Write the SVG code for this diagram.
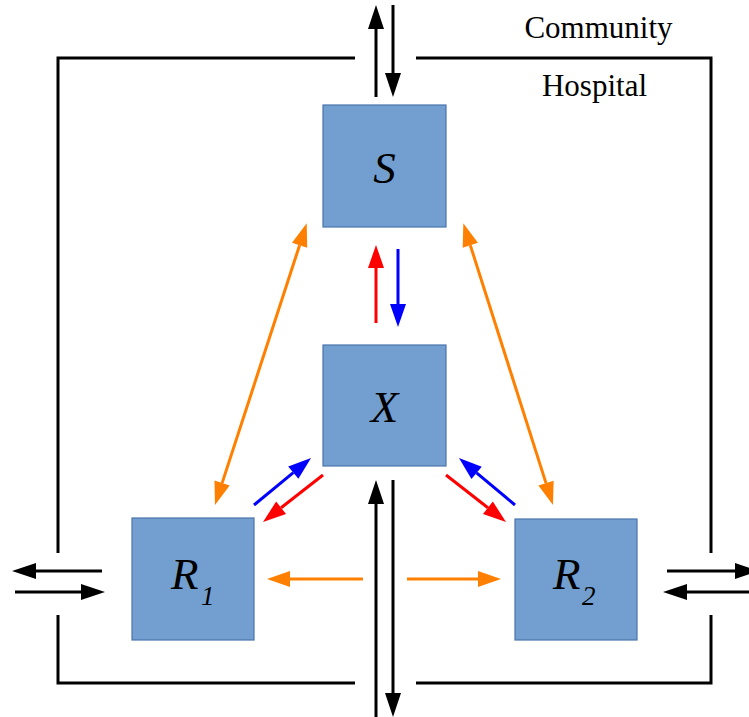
<svg xmlns="http://www.w3.org/2000/svg" width="749" height="717" viewBox="0 0 749 717">
  <style>
    .box { fill: #729fcf; stroke: #4a75ad; stroke-width: 1.2; }
    .lbl { font-family: "Liberation Serif", "Times New Roman", serif; font-style: italic; fill: #000; }
    .big { font-size: 45px; }
    .sub { font-size: 27px; }
    .zone { font-family: "Liberation Serif", "Times New Roman", serif; font-size: 31px; fill: #000; text-anchor: middle; }
    .frame { fill: none; stroke: #000; stroke-width: 3; }
    .k { stroke: #000; stroke-width: 3; fill: none; marker-end: url(#hk); }
    .r { stroke: #ff0000; stroke-width: 3; fill: none; marker-end: url(#hr); }
    .b { stroke: #0000ff; stroke-width: 3; fill: none; marker-end: url(#hb); }
    .o { stroke: #ff8000; stroke-width: 3; fill: none; marker-end: url(#ho); }
    .o2 { stroke: #ff8000; stroke-width: 3; fill: none; marker-start: url(#ho); marker-end: url(#ho); }
  </style>
  <defs>
    <marker id="hk" markerUnits="userSpaceOnUse" viewBox="0 0 24 16" refX="0" refY="8" markerWidth="24" markerHeight="16" orient="auto-start-reverse" overflow="visible">
      <path d="M0,0 L24,8 L0,16 z" fill="#000"/>
    </marker>
    <marker id="hr" markerUnits="userSpaceOnUse" viewBox="0 0 23 16" refX="0" refY="8" markerWidth="23" markerHeight="16" orient="auto-start-reverse" overflow="visible">
      <path d="M0,0 L23,8 L0,16 z" fill="#ff0000"/>
    </marker>
    <marker id="hb" markerUnits="userSpaceOnUse" viewBox="0 0 23 16" refX="0" refY="8" markerWidth="23" markerHeight="16" orient="auto-start-reverse" overflow="visible">
      <path d="M0,0 L23,8 L0,16 z" fill="#0000ff"/>
    </marker>
    <marker id="ho" markerUnits="userSpaceOnUse" viewBox="0 0 23 16" refX="0" refY="8" markerWidth="23" markerHeight="16" orient="auto-start-reverse" overflow="visible">
      <path d="M0,0 L23,8 L0,16 z" fill="#ff8000"/>
    </marker>
  </defs>

  <rect width="749" height="717" fill="#fff"/>

  <!-- hospital boundary with openings for the flows -->
  <g id="boundary">
    <path class="frame" d="M355,58 H58 V553 M58,615 V683 H355"/>
    <path class="frame" d="M416,58 H711 V553 M711,615 V683 H416"/>
    <text class="zone" x="598.5" y="38">Community</text>
    <text class="zone" x="594.5" y="96">Hospital</text>
  </g>

  <!-- compartments -->
  <g id="node-S">
    <rect class="box" x="323" y="105" width="123" height="122"/>
    <text class="lbl big" x="384.5" y="183" text-anchor="middle">S</text>
  </g>
  <g id="node-X">
    <rect class="box" x="323" y="345" width="123" height="121"/>
    <text class="lbl big" x="384.5" y="422" text-anchor="middle">X</text>
  </g>
  <g id="node-R1">
    <rect class="box" x="132" y="518" width="122" height="122"/>
    <text class="lbl" x="171" y="589"><tspan class="big">R</tspan><tspan class="sub" x="201" y="605">1</tspan></text>
  </g>
  <g id="node-R2">
    <rect class="box" x="515" y="519" width="122" height="121"/>
    <text class="lbl" x="553" y="589"><tspan class="big">R</tspan><tspan class="sub" x="582" y="605">2</tspan></text>
  </g>

  <!-- flows -->
  <g id="connectors">
    <!-- admission / discharge across the boundary -->
    <line class="k" x1="376" y1="97" x2="376" y2="29"/>
    <line class="k" x1="393" y1="5" x2="393" y2="73"/>
    <line class="k" x1="376" y1="717" x2="376" y2="504"/>
    <line class="k" x1="393" y1="480" x2="393" y2="693"/>
    <line class="k" x1="102" y1="571" x2="36" y2="571"/>
    <line class="k" x1="15" y1="592" x2="81" y2="592"/>
    <line class="k" x1="667" y1="571" x2="735" y2="571"/>
    <line class="k" x1="760" y1="592" x2="687" y2="592"/>

    <!-- S <-> X -->
    <line class="r" x1="376" y1="323" x2="376" y2="268"/>
    <line class="b" x1="398" y1="249" x2="398" y2="304"/>

    <!-- X <-> R1 -->
    <line class="b" x1="254" y1="505" x2="293.3" y2="472.6"/>
    <line class="r" x1="323" y1="475" x2="281.1" y2="507.8"/>

    <!-- X <-> R2 -->
    <line class="b" x1="515" y1="505" x2="476.6" y2="472.8"/>
    <line class="r" x1="446" y1="475" x2="487.9" y2="507.8"/>

    <!-- S <-> R1, S <-> R2 -->
    <line class="o2" x1="299.6" y1="245.2" x2="222.1" y2="483.1"/>
    <line class="o2" x1="470.3" y1="245.2" x2="546" y2="483.1"/>

    <!-- X -> R1, X -> R2 -->
    <line class="o" x1="363" y1="579" x2="290" y2="579"/>
    <line class="o" x1="407" y1="579" x2="478" y2="579"/>
  </g>
</svg>
